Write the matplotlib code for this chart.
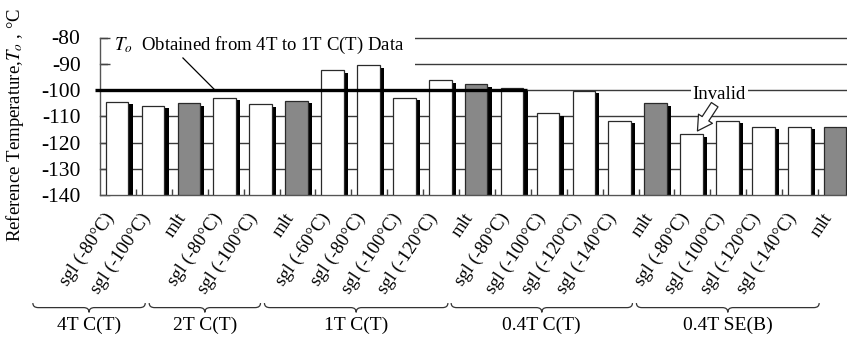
import numpy as np
import matplotlib
matplotlib.use('Agg')
import matplotlib.pyplot as plt
from matplotlib.path import Path
from matplotlib.patches import PathPatch, Rectangle
import matplotlib.transforms as mtransforms

plt.rcParams['font.family'] = 'Liberation Serif'
plt.rcParams['mathtext.fontset'] = 'stix'

# ---- data ----
labels = ['sgl (-80°C)', 'sgl (-100°C)',
          'mlt', 'sgl (-80°C)', 'sgl (-100°C)',
          'mlt', 'sgl (-60°C)', 'sgl (-80°C)', 'sgl (-100°C)', 'sgl (-120°C)',
          'mlt', 'sgl (-80°C)', 'sgl (-100°C)', 'sgl (-120°C)', 'sgl (-140°C)',
          'mlt', 'sgl (-80°C)', 'sgl (-100°C)', 'sgl (-120°C)', 'sgl (-140°C)',
          'mlt']
t_ref = [-104.5, -106.0,
         -105.0, -102.9, -105.3,
         -104.1, -92.5, -90.6, -102.9, -96.3,
         -97.8, -99.2, -108.8, -100.3, -111.7,
         -105.1, -116.9, -111.7, -114.0, -114.0,
         -114.0]
groups = ['4T C(T)', '2T C(T)', '1T C(T)', '0.4T C(T)', '0.4T SE(B)']
to_value = -100.0
yticks = [-140, -130, -120, -110, -100, -90, -80]

# layout bits (brace extents in category units)
brace_spans = [(-2.37, 0.76), (0.87, 3.97), (4.08, 9.19), (9.28, 14.33), (14.44, 19.53)]

x = np.arange(len(labels))
colors = ['#888888' if l == 'mlt' else 'white' for l in labels]
ybase = -140.0

fig = plt.figure(figsize=(8.47, 3.38), dpi=100)
ax = fig.add_axes([100/847, 143/338, 754/847, 157.5/338])
ax.set_xlim(-0.5, len(labels) - 0.5)
ax.set_ylim(-140, -80)

# grid
for yv in yticks[1:]:
    ax.axhline(yv, color='#3a3a3a', lw=1.0, zorder=0.5, clip_on=False)

# white box behind T_o label
ax.add_patch(Rectangle((-0.28, -91.0), 8.55, 13.5, fc='white', ec='none',
                       zorder=1, clip_on=False))

# bars with black drop shadow
vals = np.array(t_ref)
ax.bar(x - 0.025 + 0.12, vals - 1.0 - ybase, bottom=ybase, width=0.63,
       color='black', edgecolor='none', zorder=2)
ax.bar(x - 0.025, vals - ybase, bottom=ybase, width=0.63, color=colors,
       edgecolor='#2a2a2a', linewidth=0.9, zorder=3)

# T_o line
ax.plot([-0.64, 11.4], [to_value, to_value], color='black', lw=2.4,
        zorder=4, clip_on=False, solid_capstyle='butt')
ax.plot([1.81, 2.70], [-87.8, to_value], color='black', lw=0.9, zorder=4)
ax.text(-0.1, -83.0, r'$T_o$  Obtained from 4T to 1T C(T) Data', fontsize=13.5,
        ha='left', va='center', zorder=5)

# invalid annotation
ax.text(16.75, -101.9, 'Invalid', fontsize=13.5, ha='center', va='center', zorder=6,
        bbox=dict(fc='white', ec='none', pad=1.5))
ax.annotate('', xy=(16.14, -115.6), xytext=(16.62, -105.6), zorder=6,
            arrowprops=dict(arrowstyle='simple,head_length=0.7,head_width=0.8,tail_width=0.38',
                            mutation_scale=15, fc='white', ec='#222222', lw=0.9,
                            shrinkA=0, shrinkB=0))

# axes styling
for s in ['top', 'right']:
    ax.spines[s].set_visible(False)
for s in ['left', 'bottom']:
    ax.spines[s].set_color('#555555')
    ax.spines[s].set_linewidth(1.0)
ax.set_yticks(yticks)
ax.set_yticklabels([str(v) for v in yticks])
ax.tick_params(axis='y', direction='in', length=7, width=1.0, color='#444444',
               pad=14, labelsize=15.5)
ax.set_xticks(x)
ax.set_xticklabels(labels, rotation=56, ha='right', va='top', fontsize=13.5)
ax.tick_params(axis='x', which='major', length=0, pad=11)
ax.set_xticks(np.arange(0.5, len(labels) - 0.5), minor=True)
ax.tick_params(axis='x', which='minor', direction='in', length=4, width=1.0,
               color='#444444')

# group braces
trans = mtransforms.blended_transform_factory(ax.transData, ax.transAxes)
y_end, y_line, y_tip = -0.686, -0.715, -0.745
d = 0.15
for name, (x0, x1) in zip(groups, brace_spans):
    xm = (x0 + x1) / 2
    verts = [(x0, y_end), (x0, y_line), (x0 + d, y_line),
             (xm - d, y_line), (xm, y_line), (xm, y_tip),
             (xm, y_line), (xm + d, y_line),
             (x1 - d, y_line), (x1, y_line), (x1, y_end)]
    codes = [Path.MOVETO, Path.CURVE3, Path.CURVE3, Path.LINETO,
             Path.CURVE3, Path.CURVE3, Path.CURVE3, Path.CURVE3,
             Path.LINETO, Path.CURVE3, Path.CURVE3]
    ax.add_patch(PathPatch(Path(verts, codes), fc='none', ec='#333333', lw=0.9,
                           transform=trans, clip_on=False))
    ax.text(xm, -0.83, name, transform=trans, ha='center', va='center', fontsize=14)

fig.text(15/847, 0.63, r'Reference Temperature,$T_o$ , °C', rotation=90,
         ha='center', va='center', fontsize=13.5)

fig.savefig('out.png', dpi=100)
